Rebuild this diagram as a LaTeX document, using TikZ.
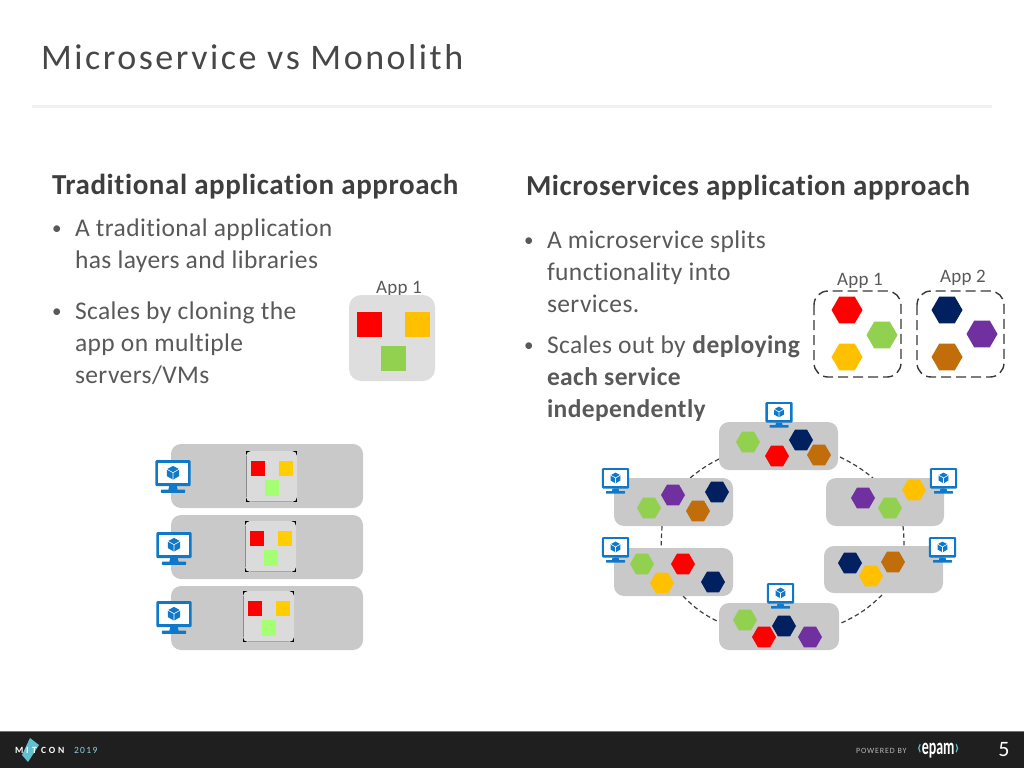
\documentclass[tikz,border=0pt]{standalone}
\usepackage{fontspec}
\setmainfont{Carlito}[RawFeature={-liga;-dlig;-clig}]
\usepackage{graphicx}
\usetikzlibrary{shapes.geometric}
\definecolor{txt}{HTML}{595959}
\definecolor{boxgrey}{HTML}{C9C9C9}
\definecolor{azure}{HTML}{0F78C8}
\definecolor{hred}{HTML}{FF0000}
\definecolor{hgreen}{HTML}{92D050}
\definecolor{hyellow}{HTML}{FFC000}
\definecolor{hnavy}{HTML}{002060}
\definecolor{hpurple}{HTML}{7030A0}
\definecolor{hbrown}{HTML}{C06D0A}
\definecolor{foot}{HTML}{1F1F1F}
\definecolor{logocyan}{HTML}{62BFD0}
\tikzset{
  x=1pt,y=-1pt,
  every node/.style={inner sep=0pt,outer sep=0pt},
  serverbox/.style={fill=boxgrey,rounded corners=10pt},
  hexsmall/.style={regular polygon,regular polygon sides=6,shape border rotate=0,minimum size=24pt,inner sep=0pt},
  hexbig/.style={regular polygon,regular polygon sides=6,shape border rotate=0,minimum size=31pt,inner sep=0pt},
  ringdash/.style={draw=black!75,line width=1.2pt,dash pattern=on 4.5pt off 3pt},
  appdash/.style={draw=black!78,line width=1.4pt,dash pattern=on 10pt off 5pt,rounded corners=14pt},
  heading/.style={anchor=base west,text=txt!70!black,font=\bfseries\fontsize{29}{32}\selectfont\addfontfeatures{LetterSpace=2.0}},
  bodytext/.style={anchor=base west,text=txt,font=\fontsize{25.5}{32}\selectfont\addfontfeatures{LetterSpace=1.6}},
  bullettext/.style={anchor=base west,text=txt,font=\fontsize{19}{22}\selectfont},
  applabel/.style={anchor=base,text=txt,font=\fontsize{19}{22}\selectfont\addfontfeatures{LetterSpace=1.5}},
  footbold/.style={anchor=base west,text=white,font=\bfseries\fontsize{9.5}{10}\selectfont},
  monitor/.pic={
    \fill[azure,rounded corners=1.2pt] (-13.7,0) rectangle (13.7,20.5);
    \fill[white] (-11.4,2.3) rectangle (11.4,17.8);
    \fill[azure] (-3,20.5) -- (3,20.5) -- (3.6,23.4) -- (-3.6,23.4) -- cycle;
    \fill[azure,rounded corners=.5pt] (-9.5,23.2) rectangle (9.5,25.6);
    \fill[azure] (0,4.6) -- (4.8,7.2) -- (4.8,12.6) -- (0,15.3) -- (-4.8,12.6) -- (-4.8,7.2) -- cycle;
    \draw[white,line width=.6pt] (-4.8,7.2) -- (0,9.9) -- (4.8,7.2) (0,9.9) -- (0,15.3);
  },
}
\newcommand{\thumb}[2]{%
  \fill[black] (#1,#2) rectangle ++(51,51);
  \fill[black!14,rounded corners=5pt] (#1,#2) rectangle ++(51,51);
  \draw[black!45,line width=.7pt] (#1+.4,#2+5) -- ++(0,41);
  \draw[black!35,line width=.7pt] (#1+5,#2+50.6) -- ++(41,0);
  \fill[hred] (#1+5,#2+10) rectangle ++(14,15);
  \fill[hyellow!80!yellow] (#1+33,#2+10) rectangle ++(14,15);
  \fill[green!65!yellow!55!white] (#1+18.5,#2+29) rectangle ++(14.5,16);
}
\newcommand{\hexs}[3]{\node[hexsmall,fill=#3] at (#1,#2) {};}
\newcommand{\hexb}[3]{\node[hexbig,fill=#3] at (#1,#2) {};}
\begin{document}
\begin{tikzpicture}
\useasboundingbox (0,0) rectangle (1024,768);
\fill[white] (0,0) rectangle (1024,768);
% title
\node[anchor=base west,text=black!72,font=\fontsize{36}{40}\selectfont\addfontfeatures{LetterSpace=7}] (title) at (41,70) {Microservice vs Monolith};
\fill[black!6] (32,105) rectangle (992,107.5);
% headings
\node[heading] (hl) at (52,194) {Traditional application approach};
\node[heading] (hr) at (526,195) {Microservices application approach};
% left bullets
\node[bullettext] at (52,234) {•};
\node[bodytext] at (75,236) {A traditional application};
\node[bodytext] at (75,268) {has layers and libraries};
\node[bullettext] at (52,317) {•};
\node[bodytext] at (75,319) {Scales by cloning the};
\node[bodytext] at (75,351) {app on multiple};
\node[bodytext] at (75,383) {servers/VMs};
% right bullets
\node[bullettext] at (524,246) {•};
\node[bodytext] at (547,248) {A microservice splits};
\node[bodytext] at (547,280) {functionality into};
\node[bodytext] at (547,312) {services.};
\node[bullettext] at (524,351) {•};
\node[bodytext] at (547,353) {Scales out by \textbf{deploying}};
\node[bodytext] at (547,385) {\textbf{each service}};
\node[bodytext] at (547,417) {\textbf{independently}};
% left app
\node[applabel] (la) at (399,293) {App 1};
\fill[black!13,rounded corners=12pt] (349,295) rectangle (435,381);
\fill[hred] (357,312) rectangle (382,337);
\fill[hyellow] (405,312) rectangle (430,337);
\fill[hgreen] (381,346) rectangle (406,371);
% left servers
\fill[serverbox] (171,444) rectangle (363,508);
\fill[serverbox] (171,515) rectangle (363,579);
\fill[serverbox] (171,586) rectangle (363,650);
\thumb{246}{451}
\thumb{245}{521}
\thumb{243}{591}
\pic[scale=1.28] at (173,460) {monitor};
\pic[scale=1.28] at (174,532) {monitor};
\pic[scale=1.28] at (174,601) {monitor};
% right apps
\node[applabel] (ra1) at (860,285) {App 1};
\node[applabel] (ra2) at (963,282) {App 2};
\draw[appdash] (814,291) rectangle (901,377);
\draw[appdash] (917,291) rectangle (1004,377);
\hexb{847}{310}{hred}
\hexb{882}{335}{hgreen}
\hexb{847}{357}{hyellow}
\hexb{947}{310}{hnavy}
\hexb{982}{334}{hpurple}
\hexb{947}{357}{hbrown}
% ring
\coordinate (a1) at (719,459); \coordinate (a2) at (690,478);
\coordinate (b1) at (840,457); \coordinate (b2) at (873,478);
\coordinate (c1) at (662,526); \coordinate (c2) at (661,548);
\coordinate (d1) at (903,526); \coordinate (d2) at (904,546);
\coordinate (e1) at (683,596); \coordinate (e2) at (719,622);
\coordinate (f1) at (882,595); \coordinate (f2) at (839,624);
\draw[ringdash] (a1) to[bend right=6] (a2);
\draw[ringdash] (b1) to[bend left=6] (b2);
\draw[ringdash] (c1) to (c2);
\draw[ringdash] (d1) to[bend left=3] (d2);
\draw[ringdash] (e1) to[bend right=10] (e2);
\draw[ringdash] (f1) to[bend left=10] (f2);
% right servers
\fill[serverbox] (719,422) rectangle (838,470);
\fill[serverbox] (614,478) rectangle (733,526);
\fill[serverbox] (614,548) rectangle (733,596);
\fill[serverbox] (719,603) rectangle (839,650);
\fill[serverbox] (826,478) rectangle (944,526);
\fill[serverbox] (824,546) rectangle (943,593);
\hexs{748}{442}{hgreen} \hexs{801}{440}{hnavy} \hexs{777}{456}{hred} \hexs{819}{455}{hbrown}
\hexs{673}{495}{hpurple} \hexs{717}{492}{hnavy} \hexs{649}{508}{hgreen} \hexs{698}{511}{hbrown}
\hexs{642}{564}{hgreen} \hexs{683}{564}{hred} \hexs{662}{583}{hyellow} \hexs{713}{582}{hnavy}
\hexs{745}{620}{hgreen} \hexs{784}{626}{hnavy} \hexs{764}{637}{hred} \hexs{810}{637}{hpurple}
\hexs{914}{490}{hyellow} \hexs{863}{498}{hpurple} \hexs{890}{508}{hgreen}
\hexs{850}{563}{hnavy} \hexs{893}{562}{hbrown} \hexs{871}{576}{hyellow}
\pic at (779,402) {monitor};
\pic at (615.5,468) {monitor};
\pic at (615.5,537) {monitor};
\pic at (780.5,583) {monitor};
\pic at (943.5,468) {monitor};
\pic at (942.5,537) {monitor};
% footer
\fill[foot] (0,732) rectangle (1024,768);
\fill[black!55] (0,731) rectangle (1024,732);
\fill[logocyan] (30,738) -- (39,745) -- (28,762) -- (22,755) -- cycle;
\node[footbold] (mi) at (15,753.5) {M};
\node[footbold] (mt) at (26,753.5) {I};
\node[footbold] (tt) at (32,753.5) {T};
\node[footbold,font=\bfseries\fontsize{9.5}{10}\selectfont\addfontfeatures{LetterSpace=30}] (con) at (41,753.5) {CON};
\node[anchor=base west,text=logocyan!70!white,font=\fontsize{9.5}{10}\selectfont\addfontfeatures{LetterSpace=15}] (yr) at (74,753.5) {2019};
\node[anchor=base west,text=black!28,font=\fontsize{8}{9}\selectfont\addfontfeatures{LetterSpace=11}] (pow) at (856,753) {POWERED BY};
\node[anchor=base west,text=white,font=\bfseries\fontsize{17}{18}\selectfont] (ep) at (917,754) {\scalebox{.82}[1.35]{\textcolor{logocyan}{‹}epam\textcolor{logocyan}{›}}};
\node[anchor=base,text=white,font=\fontsize{22}{24}\selectfont] (pg) at (1004,756) {5};
\end{tikzpicture}
\end{document}
